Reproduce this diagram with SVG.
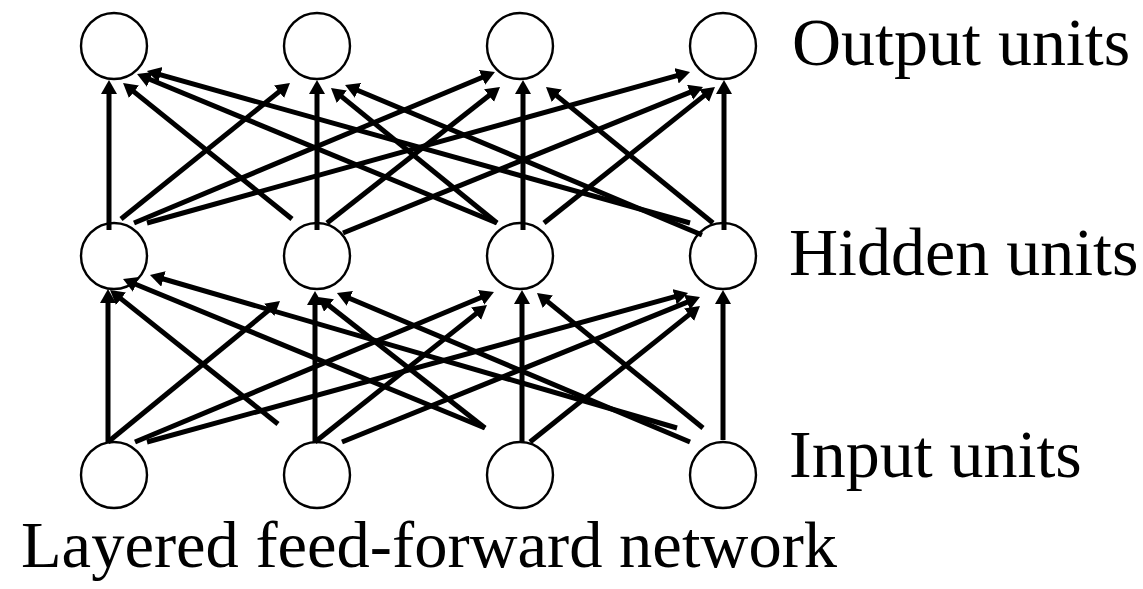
<svg xmlns="http://www.w3.org/2000/svg" width="1143" height="589" viewBox="0 0 1143 589">
  <style>
    .unit { fill: #fff; stroke: #000; stroke-width: 2.4; }
    .edge { stroke: #000; stroke-width: 5; fill: none; marker-end: url(#head); }
    .label { font-family: "Liberation Serif", "Times New Roman", serif; font-size: 68px; fill: #000; }
    .caption { font-family: "Liberation Serif", "Times New Roman", serif; font-size: 66.5px; fill: #000; }
  </style>
  <defs>
    <marker id="head" markerUnits="userSpaceOnUse" markerWidth="16" markerHeight="17" refX="7" refY="8" orient="auto">
      <path d="M0,0 L14,8 L0,16 z" fill="#000"/>
    </marker>
  </defs>

  <rect width="1143" height="589" fill="#fff"/>

  <!-- output layer -->
  <g id="out1"><circle class="unit" cx="114" cy="46" r="33"/></g>
  <g id="out2"><circle class="unit" cx="317" cy="46" r="33"/></g>
  <g id="out3"><circle class="unit" cx="520" cy="46" r="33"/></g>
  <g id="out4"><circle class="unit" cx="723" cy="46" r="33"/></g>

  <!-- hidden layer -->
  <g id="hid1"><circle class="unit" cx="114" cy="256" r="33"/></g>
  <g id="hid2"><circle class="unit" cx="317" cy="256" r="33"/></g>
  <g id="hid3"><circle class="unit" cx="520" cy="256" r="33"/></g>
  <g id="hid4"><circle class="unit" cx="723" cy="256" r="33"/></g>

  <!-- input layer -->
  <g id="in1"><circle class="unit" cx="114" cy="475" r="33"/></g>
  <g id="in2"><circle class="unit" cx="317" cy="475" r="33"/></g>
  <g id="in3"><circle class="unit" cx="520" cy="475" r="33"/></g>
  <g id="in4"><circle class="unit" cx="723" cy="475" r="33"/></g>

  <g id="connectors">
    <!-- hidden to output -->
    <line class="edge" x1="109" y1="230" x2="109" y2="87"/>
    <line class="edge" x1="121" y1="219" x2="284.5" y2="87.4"/>
    <line class="edge" x1="134" y1="223" x2="488.5" y2="74.7"/>
    <line class="edge" x1="147" y1="223" x2="683.3" y2="73.9"/>

    <line class="edge" x1="292" y1="219" x2="128.5" y2="87.4"/>
    <line class="edge" x1="317" y1="230" x2="317" y2="87"/>
    <line class="edge" x1="327" y1="223" x2="494.5" y2="91.3"/>
    <line class="edge" x1="343" y1="233" x2="696.5" y2="89.6"/>

    <line class="edge" x1="497" y1="223" x2="143.5" y2="76.7"/>
    <line class="edge" x1="497" y1="223" x2="336.4" y2="92.4"/>
    <line class="edge" x1="523" y1="230" x2="523" y2="87"/>
    <line class="edge" x1="544" y1="223" x2="709.5" y2="91.4"/>

    <line class="edge" x1="690" y1="223" x2="153.7" y2="72.9"/>
    <line class="edge" x1="702" y1="235" x2="351.5" y2="87.7"/>
    <line class="edge" x1="713" y1="223" x2="551.4" y2="91.4"/>
    <line class="edge" x1="724" y1="230" x2="724" y2="87"/>

    <!-- input to hidden -->
    <line class="edge" x1="108" y1="442" x2="108" y2="296"/>
    <line class="edge" x1="108" y1="442" x2="274.6" y2="305.4"/>
    <line class="edge" x1="135" y1="442" x2="487.5" y2="294.7"/>
    <line class="edge" x1="147" y1="442" x2="681.3" y2="294.9"/>

    <line class="edge" x1="278" y1="424" x2="115.5" y2="294.4"/>
    <line class="edge" x1="315" y1="442" x2="315" y2="298"/>
    <line class="edge" x1="315" y1="442" x2="481.5" y2="309.4"/>
    <line class="edge" x1="342" y1="442" x2="693.5" y2="299.6"/>

    <line class="edge" x1="485" y1="428" x2="129.5" y2="281.7"/>
    <line class="edge" x1="485" y1="428" x2="323.5" y2="301.3"/>
    <line class="edge" x1="522" y1="442" x2="522" y2="297"/>
    <line class="edge" x1="530" y1="442" x2="694.5" y2="310.4"/>

    <line class="edge" x1="677" y1="428" x2="156.7" y2="277"/>
    <line class="edge" x1="690" y1="442" x2="343.4" y2="295.7"/>
    <line class="edge" x1="703" y1="428" x2="542.4" y2="297.4"/>
    <line class="edge" x1="723" y1="440" x2="723" y2="297"/>
  </g>

  <g id="labels">
    <text class="label" x="792" y="65">Output units</text>
    <text class="label" x="789" y="275">Hidden units</text>
    <text class="label" x="789" y="477">Input units</text>
    <text class="caption" x="21" y="567">Layered feed-forward network</text>
  </g>
</svg>
